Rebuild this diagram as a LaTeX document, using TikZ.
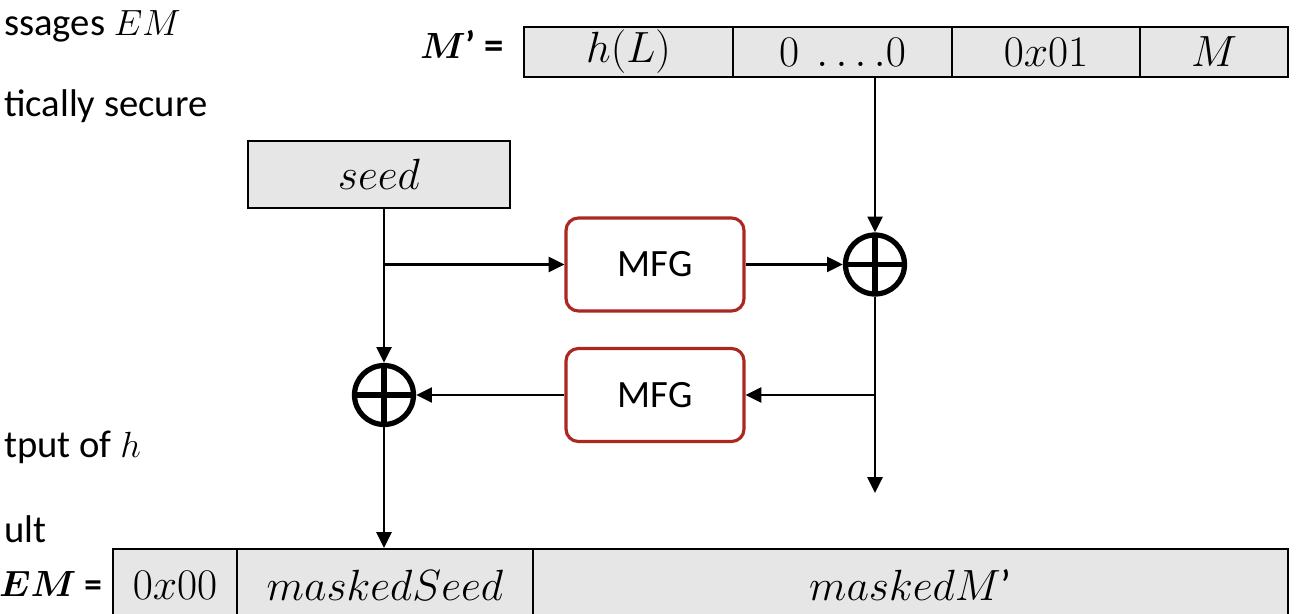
\documentclass[tikz,border=0pt]{standalone}
\usepackage{fontspec}
\setmainfont{Carlito}
\usetikzlibrary{arrows.meta}
\definecolor{cellgray}{RGB}{231,230,230}
\definecolor{mfgred}{RGB}{170,40,32}
\begin{document}
\begin{tikzpicture}
  [x=0.02cm,y=-0.02cm,
   every node/.style={font=\fontsize{22}{26}\selectfont},
   cell/.style={draw,fill=cellgray,line width=1.2pt,inner sep=0pt,
     font=\fontsize{25}{28}\selectfont},
   mfg/.style={draw=mfgred,fill=white,line width=1.8pt,rounded corners=7pt,
     minimum width=3.56cm,minimum height=1.86cm},
   xor/.style={circle,draw,line width=3pt,minimum size=1.18cm,inner sep=0pt,
     path picture={\draw[line width=3pt]
       (path picture bounding box.north) -- (path picture bounding box.south)
       (path picture bounding box.east) -- (path picture bounding box.west);}},
   side/.style={anchor=base west,font=\fontsize{22}{26}\selectfont},
   link/.style={line width=1.5pt,-{Triangle[length=9pt,width=8.5pt]}}]
  \useasboundingbox (0,0) rectangle (1298,614);
  \clip (0,0) rectangle (1298,614);

  % text left over from the slide
  \node[side] (t1) at (-2,36) {ssages $EM$};
  \node[side] (t2) at (-2,117) {tically secure};
  \node[side] (t3) at (-2,458) {tput of $h$};
  \node[side] (t4) at (-2,542) {ult};

  % M'
  \node[anchor=base east] (mlab) at (510,59) {{\boldmath$M$}\textbf{’ =}};
  \node[cell,minimum width=4.18cm,minimum height=1cm] (mp1) at (628.5,52) {$h(L)$};
  \node[cell,minimum width=4.38cm,minimum height=1cm] (mp2) at (842.5,52) {$0\ \ldots.0$};
  \node[cell,minimum width=3.76cm,minimum height=1cm] (mp3) at (1046,52) {$0x01$};
  \node[cell,minimum width=2.96cm,minimum height=1cm] (mp4) at (1214,52) {$M$};

  % EM
  \node[anchor=base east,font=\fontsize{20}{24}\selectfont] (emlab) at (108,596)
    {{\boldmath$EM$}\textbf{ =}};
  \node[cell,minimum width=2.48cm,minimum height=1.44cm] (em1) at (175,585) {$0x00$};
  \node[cell,minimum width=5.92cm,minimum height=1.44cm] (em2) at (385,585) {$maskedSeed$};
  \node[cell,minimum width=15.1cm,minimum height=1.44cm] (em3) at (910.5,585) {$maskedM$’};

  \node[cell,minimum width=5.24cm,minimum height=1.34cm] (seed) at (379,174.5) {$seed$};
  \node[mfg] (mfg1) at (655,264.5) {MFG};
  \node[mfg] (mfg2) at (655,395) {MFG};
  \node[xor] (xor1) at (875,264.5) {};
  \node[xor] (xor2) at (384,395) {};

  \coordinate (top1) at (mp2.south -| xor1);
  \coordinate (split1) at (xor2 |- mfg1);
  \coordinate (split2) at (xor1 |- mfg2);
  \coordinate (out) at (875,493);

  \draw[link] (xor2 |- seed.south) -- (xor2);
  \foreach \from/\to in {split1/mfg1,mfg1/xor1,top1/xor1,xor1/out,split2/mfg2,mfg2/xor2}
    \draw[link] (\from) -- (\to);
  \draw[link] (xor2) -- (xor2 |- em2.north);
\end{tikzpicture}
\end{document}
